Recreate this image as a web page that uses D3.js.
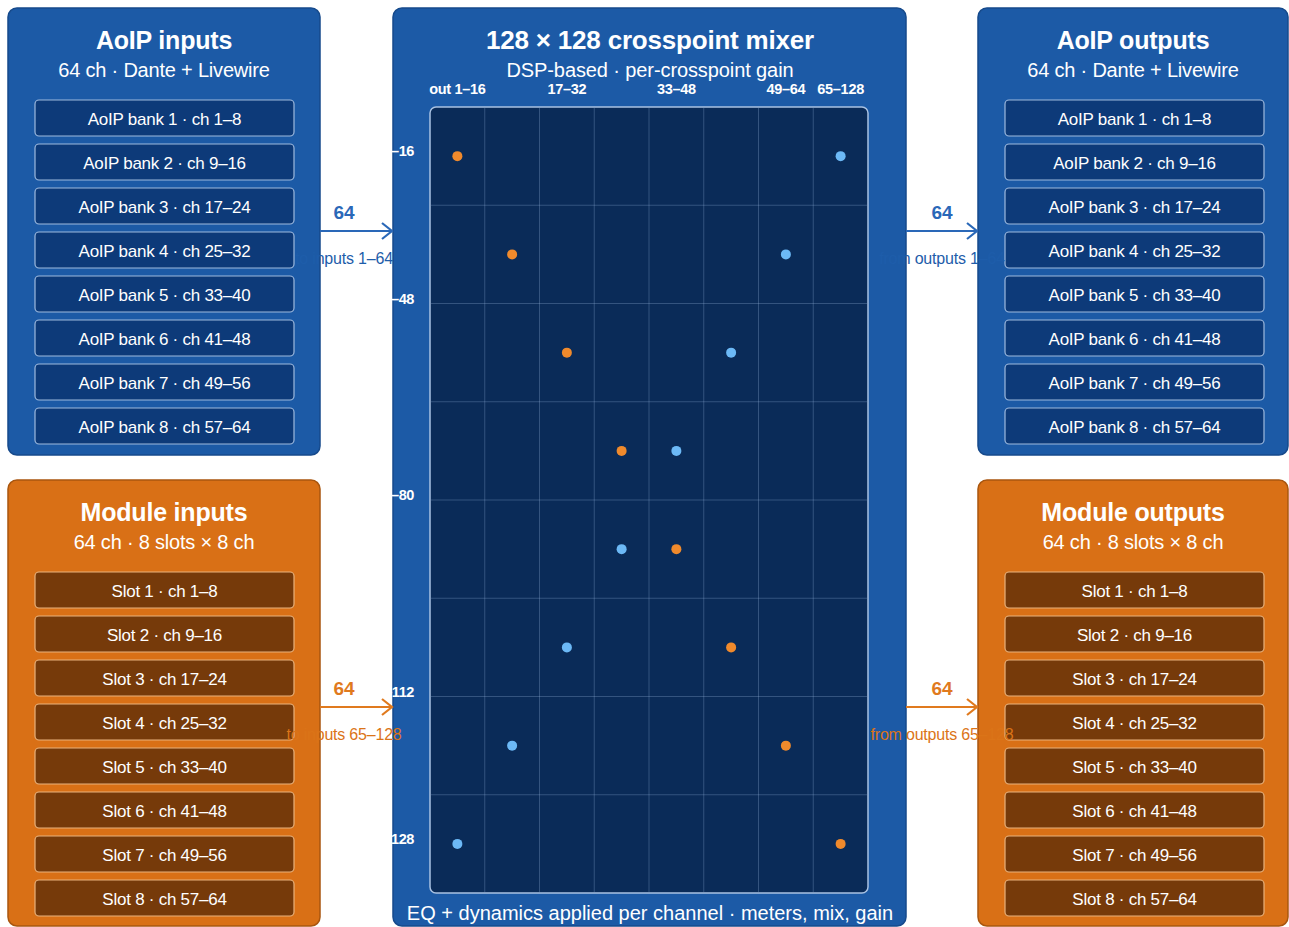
<!DOCTYPE html>
<html>
<head>
<meta charset="utf-8">
<script src="https://cdn.jsdelivr.net/npm/d3@7"></script>
<style>
  html, body { margin: 0; padding: 0; background: #ffffff; }
  svg { display: block; font-family: "Liberation Sans", Arial, sans-serif; }
</style>
</head>
<body>
<svg id="chart" width="1289" height="927"></svg>
<script>
// ---------- data ----------
const aoipBanks = [
  "AoIP bank 1 · ch 1–8", "AoIP bank 2 · ch 9–16", "AoIP bank 3 · ch 17–24",
  "AoIP bank 4 · ch 25–32", "AoIP bank 5 · ch 33–40", "AoIP bank 6 · ch 41–48",
  "AoIP bank 7 · ch 49–56", "AoIP bank 8 · ch 57–64"
];
const moduleSlots = [
  "Slot 1 · ch 1–8", "Slot 2 · ch 9–16", "Slot 3 · ch 17–24", "Slot 4 · ch 25–32",
  "Slot 5 · ch 33–40", "Slot 6 · ch 41–48", "Slot 7 · ch 49–56", "Slot 8 · ch 57–64"
];
const panelTitles = ["AoIP inputs", "Module inputs", "AoIP outputs", "Module outputs"];
const panelSubtitles = ["64 ch · Dante + Livewire", "64 ch · 8 slots × 8 ch",
                        "64 ch · Dante + Livewire", "64 ch · 8 slots × 8 ch"];
const mixerTitle = "128 × 128 crosspoint mixer";
const mixerSubtitle = "DSP-based · per-crosspoint gain";
const mixerFooter = "EQ + dynamics applied per channel · meters, mix, gain";

// column (output) tick labels and the channel they sit at
const outTickLabels = ["out 1–16", "17–32", "33–48", "49–64", "65–128"];
const outTickChannels = [8, 40, 72, 104, 120];
// row (input) tick labels and the channel they sit at
const inTickLabels = ["in 1–16", "17–48", "49–80", "81–112", "113–128"];
const inTickChannels = [8, 32, 64, 96, 120];

// 16-channel blocks of the crosspoint matrix
const blocks = [0, 1, 2, 3, 4, 5, 6, 7];
// active crosspoints: row block (input), column block (output), kind
const dotRows = [0, 0, 1, 1, 2, 2, 3, 3, 4, 4, 5, 5, 6, 6, 7, 7];
const dotCols = [0, 7, 1, 6, 2, 5, 3, 4, 3, 4, 2, 5, 1, 6, 0, 7];
const dotKinds = ["module", "aoip", "module", "aoip", "module", "aoip", "module", "aoip",
                  "aoip", "module", "aoip", "module", "aoip", "module", "aoip", "module"];

// link labels
const linkCounts = ["64", "64", "64", "64"];
const linkTexts = ["to inputs 1–64", "to inputs 65–128", "from outputs 1–64", "from outputs 65–128"];

// ---------- styles ----------
const C = {
  blue: "#1c5aa6", blueEdge: "#164a8c", blueRow: "#0d3a79", blueRowEdge: "#9db9de",
  orange: "#d97016", orangeEdge: "#a9560f", orangeRow: "#763a0a", orangeRowEdge: "#e9b27c",
  grid: "#0a2b58", gridEdge: "#a9c2e2",
  dotModule: "#f08a2c", dotAoip: "#6cb9f6",
  linkBlue: "#2a68b8", linkOrange: "#e07a1e",
  linkTextBlue: "#1e5daa", linkTextOrange: "#db7418"
};

const svg = d3.select("#chart");

// ---------- link arrows ----------
const links = [
  { x1: 320, x2: 393, y: 231, cx: 344, color: C.linkBlue, tcolor: C.linkTextBlue },
  { x1: 320, x2: 393, y: 707, cx: 344, color: C.linkOrange, tcolor: C.linkTextOrange },
  { x1: 906, x2: 978, y: 231, cx: 942, color: C.linkBlue, tcolor: C.linkTextBlue },
  { x1: 906, x2: 978, y: 707, cx: 942, color: C.linkOrange, tcolor: C.linkTextOrange }
];

// ---------- side panels ----------
const panels = [
  { x: 8, y: 8, w: 312, h: 447, fill: C.blue, edge: C.blueEdge, rowFill: C.blueRow, rowEdge: C.blueRowEdge, rows: aoipBanks },
  { x: 8, y: 480, w: 312, h: 446, fill: C.orange, edge: C.orangeEdge, rowFill: C.orangeRow, rowEdge: C.orangeRowEdge, rows: moduleSlots },
  { x: 978, y: 8, w: 310, h: 447, fill: C.blue, edge: C.blueEdge, rowFill: C.blueRow, rowEdge: C.blueRowEdge, rows: aoipBanks },
  { x: 978, y: 480, w: 310, h: 446, fill: C.orange, edge: C.orangeEdge, rowFill: C.orangeRow, rowEdge: C.orangeRowEdge, rows: moduleSlots }
];

panels.forEach((p, i) => {
  const g = svg.append("g");
  g.append("rect").attr("x", p.x).attr("y", p.y).attr("width", p.w).attr("height", p.h)
    .attr("rx", 9).attr("fill", p.fill).attr("stroke", p.edge).attr("stroke-width", 1.5);
  const cx = p.x + p.w / 2;
  g.append("text").attr("x", cx).attr("y", p.y + 32).attr("text-anchor", "middle")
    .attr("dominant-baseline", "central").attr("fill", "#fff").attr("font-weight", "bold")
    .attr("font-size", 25).attr("letter-spacing", -0.2).text(panelTitles[i]);
  g.append("text").attr("x", cx).attr("y", p.y + 62).attr("text-anchor", "middle")
    .attr("dominant-baseline", "central").attr("fill", "#fff")
    .attr("font-size", 20).attr("letter-spacing", -0.2).text(panelSubtitles[i]);

  const n = p.rows.length;
  const ry = d3.scaleBand().domain(d3.range(n))
    .range([p.y + 92, p.y + 92 + 44 * n - 8]).paddingInner(8 / 44).paddingOuter(0);
  const rowX = p.x + 27, rowW = 259;
  const rg = g.selectAll("g.row").data(p.rows).join("g").attr("class", "row");
  rg.append("rect").attr("x", rowX).attr("y", (d, j) => ry(j)).attr("width", rowW)
    .attr("height", ry.bandwidth()).attr("rx", 4).attr("fill", p.rowFill)
    .attr("stroke", p.rowEdge).attr("stroke-width", 1.2);
  rg.append("text").attr("x", rowX + rowW / 2).attr("y", (d, j) => ry(j) + ry.bandwidth() / 2 + 1)
    .attr("text-anchor", "middle").attr("dominant-baseline", "central").attr("fill", "#fff")
    .attr("font-size", 17).attr("letter-spacing", -0.25).text(d => d);
});

// ---------- mixer panel ----------
const mx = { x: 393, y: 8, w: 513, h: 918 };
svg.append("rect").attr("x", mx.x).attr("y", mx.y).attr("width", mx.w).attr("height", mx.h)
  .attr("rx", 9).attr("fill", C.blue).attr("stroke", C.blueEdge).attr("stroke-width", 1.5);
svg.append("text").attr("x", 650).attr("y", 40).attr("text-anchor", "middle")
  .attr("dominant-baseline", "central").attr("fill", "#fff").attr("font-weight", "bold")
  .attr("font-size", 26).attr("letter-spacing", -0.2).text(mixerTitle);
svg.append("text").attr("x", 650).attr("y", 70).attr("text-anchor", "middle")
  .attr("dominant-baseline", "central").attr("fill", "#fff")
  .attr("font-size", 20).attr("letter-spacing", -0.1).text(mixerSubtitle);
svg.append("text").attr("x", 650).attr("y", 913).attr("text-anchor", "middle")
  .attr("dominant-baseline", "central").attr("fill", "#fff")
  .attr("font-size", 20).attr("letter-spacing", 0).text(mixerFooter);

const gx0 = 430, gx1 = 868, gy0 = 107, gy1 = 893;
const xb = d3.scaleBand().domain(blocks).range([gx0, gx1]);
const yb = d3.scaleBand().domain(blocks).range([gy0, gy1]);
const xc = d3.scaleLinear().domain([0, 128]).range([gx0, gx1]);
const yc = d3.scaleLinear().domain([0, 128]).range([gy0, gy1]);

svg.append("rect").attr("x", gx0).attr("y", gy0).attr("width", gx1 - gx0).attr("height", gy1 - gy0)
  .attr("rx", 6).attr("fill", C.grid).attr("stroke", C.gridEdge).attr("stroke-width", 1.5);

const gl = svg.append("g").attr("stroke", "rgba(160,190,230,0.28)").attr("stroke-width", 1);
gl.selectAll("line.v").data(blocks.slice(1)).join("line").attr("class", "v")
  .attr("x1", d => xb(d)).attr("x2", d => xb(d)).attr("y1", gy0 + 1).attr("y2", gy1 - 1);
gl.selectAll("line.h").data(blocks.slice(1)).join("line").attr("class", "h")
  .attr("y1", d => yb(d)).attr("y2", d => yb(d)).attr("x1", gx0 + 1).attr("x2", gx1 - 1);

svg.append("g").selectAll("circle").data(dotRows).join("circle")
  .attr("cx", (d, i) => xb(dotCols[i]) + xb.bandwidth() / 2)
  .attr("cy", (d, i) => yb(d) + yb.bandwidth() / 2)
  .attr("r", 5)
  .attr("fill", (d, i) => dotKinds[i] === "module" ? C.dotModule : C.dotAoip);

svg.append("g").selectAll("text").data(outTickLabels).join("text")
  .attr("x", (d, i) => xc(outTickChannels[i])).attr("y", 89)
  .attr("text-anchor", "middle").attr("dominant-baseline", "central")
  .attr("fill", "#fff").attr("font-weight", "bold").attr("font-size", 14.5)
  .attr("letter-spacing", -0.3).text(d => d);

// ---------- link arrows and labels ----------
links.forEach((l, i) => {
  const g = svg.append("g");
  g.append("line").attr("x1", l.x1).attr("x2", l.x2 - 1).attr("y1", l.y).attr("y2", l.y)
    .attr("stroke", l.color).attr("stroke-width", 2.2);
  g.append("path").attr("d", `M${l.x2 - 11},${l.y - 8} L${l.x2 - 1},${l.y} L${l.x2 - 11},${l.y + 8}`)
    .attr("fill", "none").attr("stroke", l.color).attr("stroke-width", 2.2);
  g.append("text").attr("x", l.cx).attr("y", l.y - 19).attr("text-anchor", "middle")
    .attr("dominant-baseline", "central").attr("fill", l.color).attr("font-weight", "bold")
    .attr("font-size", 19).text(linkCounts[i]);
  g.append("text").attr("x", l.cx).attr("y", l.y + 27).attr("text-anchor", "middle")
    .attr("dominant-baseline", "central").attr("fill", l.tcolor)
    .attr("font-size", 16).attr("letter-spacing", -0.2).text(linkTexts[i]);
});

// input row tick labels (white, right-aligned at the mixer's left edge)
svg.append("g").selectAll("text").data(inTickLabels).join("text")
  .attr("x", 414).attr("y", (d, i) => yc(inTickChannels[i]) - 5)
  .attr("text-anchor", "end").attr("dominant-baseline", "central")
  .attr("fill", "#fff").attr("font-weight", "bold").attr("font-size", 14.5)
  .attr("letter-spacing", -0.4).text(d => d);
</script>
</body>
</html>
